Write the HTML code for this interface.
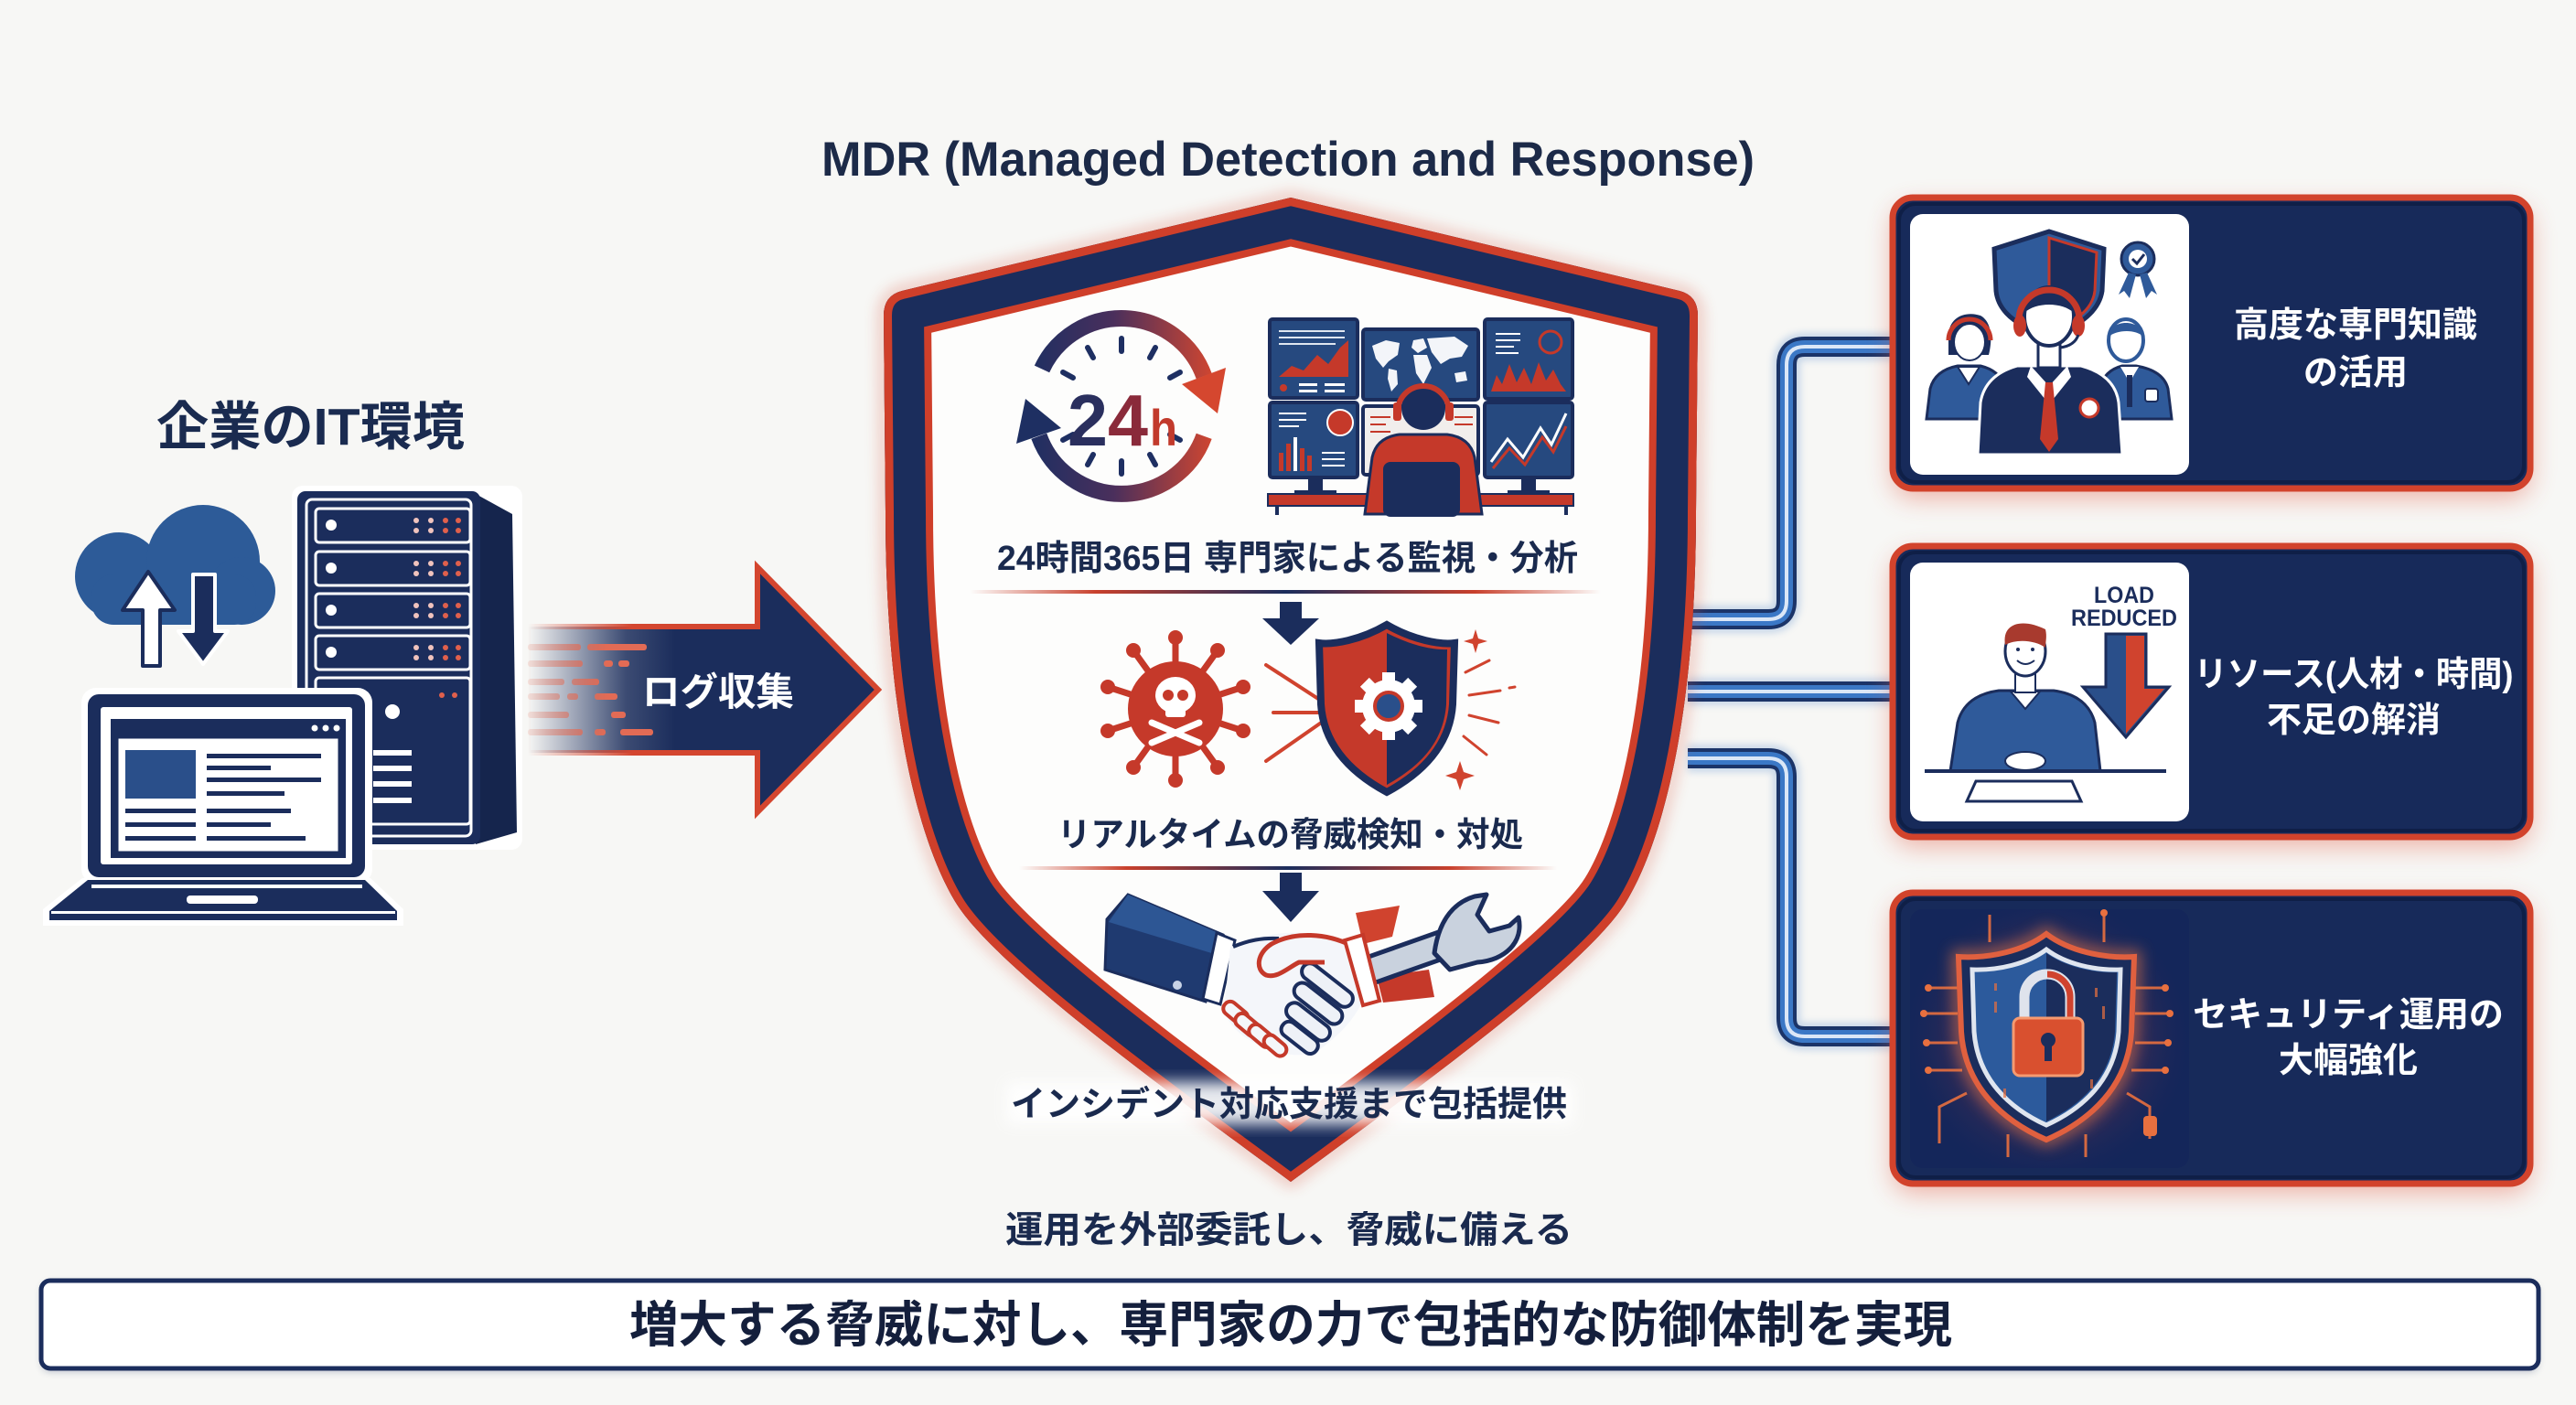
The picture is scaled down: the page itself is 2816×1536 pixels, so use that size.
<!DOCTYPE html>
<html><head><meta charset="utf-8">
<style>
html,body{margin:0;padding:0;background:#f7f7f5;}
svg{display:block;}
text{font-family:"Liberation Sans","Noto Sans CJK JP",sans-serif;font-weight:bold;}
</style></head><body>
<svg width="2816" height="1536" viewBox="0 0 2816 1536" xmlns="http://www.w3.org/2000/svg">
<defs>
 <filter id="b4" x="-20%" y="-20%" width="140%" height="140%"><feGaussianBlur stdDeviation="4"/></filter>
 <filter id="b8" x="-20%" y="-30%" width="140%" height="160%"><feGaussianBlur stdDeviation="8"/></filter>
 <filter id="b14" x="-20%" y="-30%" width="140%" height="160%"><feGaussianBlur stdDeviation="14"/></filter>
 <linearGradient id="arrF" x1="577" x2="960" y1="0" y2="0" gradientUnits="userSpaceOnUse">
  <stop offset="0" stop-color="#1b2d5c" stop-opacity="0"/><stop offset="0.28" stop-color="#1b2d5c" stop-opacity="0.85"/><stop offset="0.42" stop-color="#1b2d5c"/></linearGradient>
 <linearGradient id="arrS" x1="577" x2="960" y1="0" y2="0" gradientUnits="userSpaceOnUse">
  <stop offset="0" stop-color="#d4462f" stop-opacity="0"/><stop offset="0.3" stop-color="#d4462f"/><stop offset="1" stop-color="#d4462f"/></linearGradient>
 <linearGradient id="dashG" x1="577" x2="720" y1="0" y2="0" gradientUnits="userSpaceOnUse">
  <stop offset="0" stop-color="#e26b55" stop-opacity="0.15"/><stop offset="0.6" stop-color="#e26b55"/></linearGradient>
 <linearGradient id="ringG" x1="1125" x2="1330" y1="0" y2="0" gradientUnits="userSpaceOnUse">
  <stop offset="0" stop-color="#1e2f62"/><stop offset="0.45" stop-color="#4a2f5c"/><stop offset="1" stop-color="#d5472f"/></linearGradient>
 <linearGradient id="divG" x1="0" x2="1" y1="0" y2="0">
  <stop offset="0" stop-color="#c8402c" stop-opacity="0"/><stop offset="0.2" stop-color="#c8402c"/><stop offset="0.5" stop-color="#1b2d5c"/><stop offset="0.8" stop-color="#c8402c"/><stop offset="1" stop-color="#c8402c" stop-opacity="0"/></linearGradient>
 <radialGradient id="lockGlow" cx="2238" cy="1135" r="160" gradientUnits="userSpaceOnUse">
  <stop offset="0" stop-color="#e8643f" stop-opacity="0.75"/><stop offset="0.55" stop-color="#8a3a4e" stop-opacity="0.35"/><stop offset="1" stop-color="#15275a" stop-opacity="0"/></radialGradient>
 <path id="shp" d="M1411 216 L1836 318 Q1856 323 1856 345 L1854 560 C1854 800 1812 930 1777 987 C1732 1060 1522 1210 1411 1292 C1300 1210 1090 1060 1045 987 C1010 930 968 800 968 560 L966 345 Q966 323 986 318 Z"/>
 <clipPath id="shc"><use href="#shp"/></clipPath>
</defs>
<rect width="2816" height="1536" fill="#f7f7f5"/>

<!-- Title -->
<text x="898" y="192" font-size="53" fill="#1c2a48" textLength="1020" lengthAdjust="spacingAndGlyphs">MDR (Managed Detection and Response)</text>

<!-- Left: IT environment -->
<text x="171" y="486" font-size="57" fill="#1a2b50" textLength="337" lengthAdjust="spacingAndGlyphs">企業のIT環境</text>

<!-- Cloud -->
<g fill="#2d5b98">
 <circle cx="130" cy="630" r="48"/>
 <circle cx="222" cy="614" r="62"/>
 <circle cx="264" cy="646" r="37"/>
 <rect x="100" y="628" width="180" height="55" rx="24"/>
</g>
<g stroke-linejoin="round">
 <path d="M156 728 L156 667 L134 667 L162 625 L191 667 L175 667 L175 728 Z" fill="#ffffff" stroke="#1b2d5c" stroke-width="4"/>
 <path d="M211 628 L235 628 L235 690 L249 690 L222 726 L195 690 L211 690 Z" fill="#1b2d5c" stroke="#ffffff" stroke-width="4"/>
</g>

<!-- Server -->
<rect x="319" y="531" width="252" height="398" rx="12" fill="#ffffff"/>
<polygon points="520,540 560,562 565,910 520,923" fill="#15254d"/>
<rect x="325" y="537" width="200" height="386" rx="9" fill="#1b2d5c"/>
<rect x="335" y="546" width="180" height="368" rx="6" fill="none" stroke="#ffffff" stroke-width="3"/>
<g fill="#1b2d5c" stroke="#ffffff" stroke-width="3">
 <rect x="345" y="556" width="169" height="37" rx="4"/>
 <rect x="345" y="603" width="169" height="37" rx="4"/>
 <rect x="345" y="649" width="169" height="37" rx="4"/>
 <rect x="345" y="695" width="169" height="37" rx="4"/>
 <rect x="345" y="741" width="169" height="160" rx="4"/>
</g>
<g fill="#ffffff">
 <circle cx="362" cy="574" r="6"/><circle cx="362" cy="621" r="6"/><circle cx="362" cy="667" r="6"/><circle cx="362" cy="713" r="6"/>
 <circle cx="429" cy="778" r="8"/>
 <rect x="408" y="820" width="42" height="6"/><rect x="408" y="837" width="42" height="6"/><rect x="408" y="854" width="42" height="6"/><rect x="408" y="872" width="42" height="6"/>
</g>
<g>
 <g fill="#f0c3bd"><circle cx="455" cy="569" r="3"/><circle cx="471" cy="569" r="3"/><circle cx="455" cy="580" r="3"/><circle cx="471" cy="580" r="3"/>
 <circle cx="455" cy="616" r="3"/><circle cx="471" cy="616" r="3"/><circle cx="455" cy="627" r="3"/><circle cx="471" cy="627" r="3"/>
 <circle cx="455" cy="662" r="3"/><circle cx="471" cy="662" r="3"/><circle cx="455" cy="673" r="3"/><circle cx="471" cy="673" r="3"/>
 <circle cx="455" cy="708" r="3"/><circle cx="471" cy="708" r="3"/><circle cx="455" cy="719" r="3"/><circle cx="471" cy="719" r="3"/></g>
 <g fill="#e0604c"><circle cx="487" cy="569" r="3"/><circle cx="501" cy="569" r="3"/><circle cx="487" cy="580" r="3"/><circle cx="501" cy="580" r="3"/>
 <circle cx="487" cy="616" r="3"/><circle cx="501" cy="616" r="3"/><circle cx="487" cy="627" r="3"/><circle cx="501" cy="627" r="3"/>
 <circle cx="487" cy="662" r="3"/><circle cx="501" cy="662" r="3"/><circle cx="487" cy="673" r="3"/><circle cx="501" cy="673" r="3"/>
 <circle cx="487" cy="708" r="3"/><circle cx="501" cy="708" r="3"/><circle cx="487" cy="719" r="3"/><circle cx="501" cy="719" r="3"/>
 <circle cx="483" cy="760" r="3"/><circle cx="497" cy="760" r="3"/></g>
</g>

<!-- Laptop -->
<rect x="89" y="752" width="318" height="214" rx="16" fill="#ffffff"/>
<path d="M90 960 L405 960 L441 994 L441 1012 L47 1012 L47 994 Z" fill="#ffffff"/>
<rect x="96" y="759" width="303" height="200" rx="12" fill="#1b2d5c"/>
<rect x="110" y="773" width="275" height="172" rx="3" fill="#ffffff"/>
<rect x="121" y="786" width="257" height="152" fill="#1b2d5c"/>
<g fill="#ffffff"><circle cx="344" cy="796" r="3.5"/><circle cx="356" cy="796" r="3.5"/><circle cx="368" cy="796" r="3.5"/></g>
<rect x="128" y="806" width="243" height="126" fill="#ffffff"/>
<rect x="128" y="806" width="243" height="126" fill="none" stroke="#1b2d5c" stroke-width="3"/>
<rect x="137" y="820" width="77" height="53" fill="#2a4f8a"/>
<g fill="#1b2d5c">
 <rect x="226" y="824" width="125" height="5"/><rect x="226" y="837" width="70" height="5"/><rect x="226" y="850" width="125" height="5"/><rect x="226" y="865" width="85" height="5"/>
 <rect x="137" y="884" width="77" height="5"/><rect x="226" y="884" width="92" height="5"/>
 <rect x="137" y="899" width="77" height="5"/><rect x="226" y="899" width="70" height="5"/>
 <rect x="137" y="914" width="77" height="5"/><rect x="226" y="914" width="108" height="5"/>
</g>
<path d="M96 962 L399 962 L434 996 L434 1006 L54 1006 L54 996 Z" fill="#1b2d5c"/>
<rect x="100" y="967" width="296" height="4" fill="#ffffff"/>
<rect x="204" y="979" width="78" height="9" rx="4" fill="#ffffff"/>
<rect x="56" y="996" width="376" height="3" fill="#ffffff"/>

<!-- Log arrow -->
<path d="M577 685 L828 685 L828 620 L960 754 L828 888 L828 823 L577 823 Z" fill="url(#arrF)" stroke="url(#arrS)" stroke-width="6" stroke-linejoin="miter"/>
<g fill="url(#dashG)">
 <rect x="577" y="704" width="58" height="7" rx="3"/><rect x="642" y="704" width="65" height="7" rx="3"/>
 <rect x="577" y="722" width="60" height="7" rx="3"/><rect x="660" y="722" width="10" height="7" rx="3"/><rect x="676" y="722" width="12" height="7" rx="3"/>
 <rect x="577" y="742" width="40" height="7" rx="3"/><rect x="625" y="742" width="30" height="7" rx="3"/>
 <rect x="577" y="758" width="35" height="7" rx="3"/><rect x="620" y="758" width="12" height="7" rx="3"/><rect x="650" y="758" width="25" height="7" rx="3"/>
 <rect x="577" y="778" width="45" height="7" rx="3"/><rect x="668" y="778" width="16" height="7" rx="3"/>
 <rect x="577" y="797" width="60" height="7" rx="3"/><rect x="650" y="797" width="12" height="7" rx="3"/><rect x="678" y="797" width="36" height="7" rx="3"/>
</g>
<text x="702" y="771" font-size="42" fill="#ffffff" textLength="166" lengthAdjust="spacingAndGlyphs">ログ収集</text>

<!-- Connectors -->
<g fill="none" stroke-linejoin="round">
 <g stroke="#3a76c2" stroke-width="30" opacity="0.25" filter="url(#b4)">
  <path d="M1845 677 L1933 677 Q1953 677 1953 657 L1953 399 Q1953 379 1973 379 L2070 379"/>
  <path d="M1845 756 L2070 756"/>
  <path d="M1845 829 L1933 829 Q1953 829 1953 849 L1953 1113 Q1953 1133 1973 1133 L2070 1133"/>
 </g>
 <g stroke="#1b3468" stroke-width="22">
  <path d="M1845 677 L1933 677 Q1953 677 1953 657 L1953 399 Q1953 379 1973 379 L2070 379"/>
  <path d="M1845 756 L2070 756"/>
  <path d="M1845 829 L1933 829 Q1953 829 1953 849 L1953 1113 Q1953 1133 1973 1133 L2070 1133"/>
 </g>
 <g stroke="#3b78c6" stroke-width="14">
  <path d="M1845 677 L1933 677 Q1953 677 1953 657 L1953 399 Q1953 379 1973 379 L2070 379"/>
  <path d="M1845 756 L2070 756"/>
  <path d="M1845 829 L1933 829 Q1953 829 1953 849 L1953 1113 Q1953 1133 1973 1133 L2070 1133"/>
 </g>
 <g stroke="#dbe7f7" stroke-width="4">
  <path d="M1845 677 L1933 677 Q1953 677 1953 657 L1953 399 Q1953 379 1973 379 L2070 379"/>
  <path d="M1845 756 L2070 756"/>
  <path d="M1845 829 L1933 829 Q1953 829 1953 849 L1953 1113 Q1953 1133 1973 1133 L2070 1133"/>
 </g>
</g>

<!-- Shield -->
<use href="#shp" fill="none" stroke="#d4462f" stroke-width="10" opacity="0.35" filter="url(#b8)"/>
<g clip-path="url(#shc)">
 <use href="#shp" fill="#fdfdfc"/>
 <use href="#shp" fill="none" stroke="#cf3f2a" stroke-width="104"/>
 <use href="#shp" fill="none" stroke="#1b2d5c" stroke-width="88"/>
 <use href="#shp" fill="none" stroke="#cf3f2a" stroke-width="18"/>
</g>

<!-- Clock -->
<g fill="none" stroke="url(#ringG)" stroke-width="18">
 <path d="M1139 403.4 A96 96 0 0 1 1316.2 411.2"/>
 <path d="M1316.2 476.8 A96 96 0 0 1 1135.8 476.8"/>
</g>
<polygon points="1340,402 1292,420 1331,452" fill="#d5472f"/>
<polygon points="1111,485 1160,468 1121,436" fill="#1e2f62"/>
<g stroke="#1e2f62" stroke-width="6" stroke-linecap="round">
 <line x1="1226" y1="370" x2="1226" y2="384"/>
 <line x1="1263" y1="380" x2="1257" y2="391"/>
 <line x1="1290" y1="407" x2="1279" y2="413"/>
 <line x1="1290" y1="481" x2="1279" y2="475"/>
 <line x1="1263" y1="508" x2="1257" y2="497"/>
 <line x1="1226" y1="518" x2="1226" y2="504"/>
 <line x1="1189" y1="508" x2="1195" y2="497"/>
 <line x1="1162" y1="481" x2="1173" y2="475"/>
 <line x1="1162" y1="407" x2="1173" y2="413"/>
 <line x1="1189" y1="380" x2="1195" y2="391"/>
</g>
<text x="1167" y="487" font-size="80" textLength="88" lengthAdjust="spacingAndGlyphs"><tspan fill="#2a2f5e">2</tspan><tspan fill="#8a2a3a">4</tspan></text>
<text x="1257" y="487" font-size="56" fill="#c23a2c" textLength="30" lengthAdjust="spacingAndGlyphs">h</text>

<!-- Monitors -->
<g stroke="#1b2d5c" stroke-width="4" fill="#26497f">
 <rect x="1388" y="349" width="96" height="86" rx="3"/>
 <rect x="1490" y="360" width="126" height="77" rx="3"/>
 <rect x="1623" y="349" width="96" height="87" rx="3"/>
 <rect x="1388" y="440" width="96" height="82" rx="3"/>
 <rect x="1490" y="444" width="126" height="75" rx="3" fill="#f1eeec"/>
 <rect x="1623" y="440" width="96" height="82" rx="3"/>
</g>
<g fill="#1b2d5c"><rect x="1430" y="522" width="16" height="20"/><rect x="1663" y="522" width="16" height="20"/><rect x="1415" y="536" width="46" height="6"/><rect x="1648" y="536" width="46" height="6"/></g>
<g stroke="#dfe6f0" stroke-width="2"><line x1="1398" y1="362" x2="1470" y2="362"/><line x1="1398" y1="369" x2="1470" y2="369"/><line x1="1398" y1="376" x2="1460" y2="376"/></g>
<polygon points="1398,412 1412,400 1425,405 1440,388 1452,398 1465,380 1474,372 1474,412" fill="#c5392a"/>
<circle cx="1403" cy="424" r="4" fill="#c5392a"/>
<g fill="#ffffff"><rect x="1420" y="419" width="20" height="3"/><rect x="1420" y="426" width="20" height="3"/><rect x="1448" y="419" width="22" height="3"/><rect x="1448" y="426" width="22" height="3"/></g>
<g fill="#f3f5f9">
 <path d="M1500 378 L1515 372 L1530 375 L1528 388 L1518 395 L1512 402 L1504 392 Z"/>
 <path d="M1518 403 L1527 405 L1528 420 L1521 428 L1517 414 Z"/>
 <path d="M1545 372 L1556 370 L1560 380 L1550 386 L1543 380 Z"/>
 <path d="M1545 388 L1560 388 L1565 402 L1556 420 L1548 408 Z"/>
 <path d="M1560 370 L1590 368 L1605 378 L1598 390 L1585 392 L1575 398 L1565 385 Z"/>
 <path d="M1590 408 L1602 406 L1604 416 L1592 418 Z"/>
</g>
<g stroke="#ffffff" stroke-width="2"><line x1="1635" y1="365" x2="1662" y2="365"/><line x1="1635" y1="372" x2="1662" y2="372"/><line x1="1635" y1="379" x2="1655" y2="379"/><line x1="1635" y1="386" x2="1660" y2="386"/></g>
<circle cx="1695" cy="374" r="12" fill="none" stroke="#c5392a" stroke-width="3"/>
<polygon points="1630,428 1636,410 1642,420 1650,398 1658,418 1666,402 1674,420 1682,396 1690,416 1698,404 1706,420 1712,428" fill="#c5392a"/>
<g stroke="#ffffff" stroke-width="2"><line x1="1398" y1="452" x2="1428" y2="452"/><line x1="1398" y1="459" x2="1428" y2="459"/><line x1="1398" y1="466" x2="1420" y2="466"/><line x1="1445" y1="495" x2="1470" y2="495"/><line x1="1445" y1="502" x2="1470" y2="502"/><line x1="1445" y1="509" x2="1470" y2="509"/></g>
<circle cx="1465" cy="462" r="14" fill="#c5392a" stroke="#ffffff" stroke-width="2"/>
<g fill="#c5392a"><rect x="1398" y="495" width="5" height="20"/><rect x="1406" y="485" width="5" height="30"/><rect x="1414" y="478" width="4" height="37" fill="#ffffff"/><rect x="1421" y="490" width="5" height="25"/><rect x="1429" y="498" width="5" height="17"/></g>
<g stroke="#c5392a" stroke-width="2"><line x1="1498" y1="456" x2="1520" y2="456"/><line x1="1498" y1="464" x2="1515" y2="464"/><line x1="1498" y1="472" x2="1520" y2="472"/><line x1="1590" y1="456" x2="1610" y2="456"/><line x1="1590" y1="464" x2="1610" y2="464"/></g>
<polyline points="1630,505 1648,480 1665,500 1684,468 1696,486 1712,452" fill="none" stroke="#ffffff" stroke-width="3"/>
<polyline points="1632,512 1650,490 1667,508 1686,478 1698,494 1712,466" fill="none" stroke="#c5392a" stroke-width="3"/>
<rect x="1386" y="540" width="334" height="13" fill="#c5392a" stroke="#1b2d5c" stroke-width="2"/>
<g fill="#1b2d5c"><rect x="1394" y="553" width="4" height="10"/><rect x="1710" y="553" width="4" height="10"/></g>
<path d="M1492 562 L1500 500 Q1505 478 1530 475 L1582 475 Q1607 478 1612 500 L1620 562 Z" fill="#c5392a" stroke="#1b2d5c" stroke-width="3"/>
<rect x="1512" y="505" width="84" height="60" rx="8" fill="#1b2d5c"/>
<circle cx="1556" cy="446" r="24" fill="#1b2d5c"/>
<path d="M1528 450 A28 28 0 0 1 1584 450" fill="none" stroke="#c5392a" stroke-width="6"/>
<rect x="1523" y="440" width="9" height="20" rx="3" fill="#c5392a"/><rect x="1580" y="440" width="9" height="20" rx="3" fill="#c5392a"/>

<text x="1090" y="623" font-size="38" fill="#1a2a4e" textLength="635" lengthAdjust="spacingAndGlyphs">24時間365日 専門家による監視・分析</text>
<rect x="1060" y="645" width="690" height="4" fill="url(#divG)"/>
<rect x="1399" y="658" width="24" height="20" fill="#1b2d5c"/><polygon points="1380,676 1442,676 1411,705" fill="#1b2d5c"/>

<!-- Virus -->
<g stroke="#c5392a" stroke-width="7" stroke-linecap="round">
 <line x1="1285" y1="775" x2="1285" y2="700"/><line x1="1285" y1="775" x2="1329" y2="714"/><line x1="1285" y1="775" x2="1356" y2="752"/>
 <line x1="1285" y1="775" x2="1356" y2="798"/><line x1="1285" y1="775" x2="1329" y2="836"/><line x1="1285" y1="775" x2="1285" y2="850"/>
 <line x1="1285" y1="775" x2="1241" y2="836"/><line x1="1285" y1="775" x2="1214" y2="798"/><line x1="1285" y1="775" x2="1214" y2="752"/><line x1="1285" y1="775" x2="1241" y2="714"/>
</g>
<g fill="#c5392a">
 <circle cx="1285" cy="697" r="8"/><circle cx="1331" cy="711" r="8"/><circle cx="1359" cy="751" r="8"/><circle cx="1359" cy="799" r="8"/><circle cx="1331" cy="839" r="8"/>
 <circle cx="1285" cy="853" r="8"/><circle cx="1239" cy="839" r="8"/><circle cx="1211" cy="799" r="8"/><circle cx="1211" cy="751" r="8"/><circle cx="1239" cy="711" r="8"/>
 <circle cx="1285" cy="775" r="52"/>
</g>
<ellipse cx="1285" cy="760" rx="22" ry="20" fill="#ffffff"/>
<rect x="1274" y="770" width="22" height="14" rx="3" fill="#ffffff"/>
<circle cx="1277" cy="760" r="6" fill="#c5392a"/><circle cx="1293" cy="760" r="6" fill="#c5392a"/>
<g stroke="#ffffff" stroke-width="7" stroke-linecap="round"><line x1="1259" y1="790" x2="1311" y2="812"/><line x1="1311" y1="790" x2="1259" y2="812"/></g>
<!-- red attack arrows -->
<g stroke="#d0432e" stroke-width="4" stroke-linecap="round">
 <line x1="1384" y1="727" x2="1455" y2="773"/><line x1="1392" y1="779" x2="1450" y2="779"/><line x1="1384" y1="832" x2="1450" y2="786"/>
</g>
<polygon points="1446,766 1472,779 1446,792" fill="#d0432e"/>
<!-- small shield -->
<path d="M1516 683 C1545 700 1575 705 1590 703 L1588 770 C1585 815 1555 845 1516 866 C1477 845 1447 815 1444 770 L1442 703 C1457 705 1487 700 1516 683 Z" fill="#c5392a" stroke="#1b2d5c" stroke-width="8"/>
<path d="M1516 692 L1516 858 C1552 838 1578 812 1581 770 L1582 710 C1568 711 1543 706 1516 692 Z" fill="#1b2d5c"/>
<g fill="#ffffff">
 <circle cx="1518" cy="772" r="29"/>
 <rect x="1511" y="735" width="14" height="16"/><rect x="1511" y="793" width="14" height="16"/><rect x="1481" y="765" width="16" height="14"/><rect x="1539" y="765" width="16" height="14"/>
 <rect x="1511" y="735" width="14" height="16" transform="rotate(45 1518 772)"/><rect x="1511" y="735" width="14" height="16" transform="rotate(135 1518 772)"/><rect x="1511" y="735" width="14" height="16" transform="rotate(225 1518 772)"/><rect x="1511" y="735" width="14" height="16" transform="rotate(315 1518 772)"/>
</g>
<circle cx="1518" cy="772" r="15" fill="#2a4f8a" stroke="#c5392a" stroke-width="4"/>
<g stroke="#d0432e" stroke-width="3" stroke-linecap="round">
 <line x1="1602" y1="735" x2="1628" y2="722"/><line x1="1606" y1="760" x2="1640" y2="755"/><line x1="1606" y1="782" x2="1638" y2="790"/><line x1="1600" y1="805" x2="1625" y2="825"/><line x1="1650" y1="752" x2="1656" y2="751"/>
</g>
<path d="M1613 688 L1616 698 L1626 701 L1616 704 L1613 714 L1610 704 L1600 701 L1610 698 Z" fill="#d0432e"/>
<path d="M1596 832 L1600 844 L1612 848 L1600 852 L1596 864 L1592 852 L1580 848 L1592 844 Z" fill="#d0432e"/>

<text x="1156" y="925" font-size="37" fill="#1a2a4e" textLength="509" lengthAdjust="spacingAndGlyphs">リアルタイムの脅威検知・対処</text>
<rect x="1114" y="947" width="588" height="4" fill="url(#divG)"/>
<rect x="1399" y="954" width="24" height="22" fill="#1b2d5c"/><polygon points="1380,974 1442,974 1411,1008" fill="#1b2d5c"/>

<!-- Handshake -->
<!-- red sleeve + wrench (behind) -->
<polygon points="1482,998 1530,990 1522,1024 1490,1032" fill="#d0432e"/>
<polygon points="1505,1068 1562,1060 1568,1090 1512,1096" fill="#c5392a"/>
<path d="M1500 1060 L1585 1030" stroke="#1b2d5c" stroke-width="34" stroke-linecap="round"/>
<path d="M1500 1060 L1585 1030" stroke="#c9d2de" stroke-width="24" stroke-linecap="round"/>
<path d="M1568 1042 C1572 1012 1585 988 1612 980 L1625 978 L1615 1000 L1628 1018 L1650 1012 L1660 1003 C1666 1030 1645 1050 1615 1052 L1585 1060 Z" fill="#c9d2de" stroke="#1b2d5c" stroke-width="5" stroke-linejoin="round"/>
<!-- navy sleeve -->
<polygon points="1233,978 1337,1022 1318,1095 1208,1060 1210,1005" fill="#1f3a70" stroke="#1b2d5c" stroke-width="3"/>
<polygon points="1233,978 1337,1022 1331,1044 1212,1008" fill="#2d5694"/>
<polygon points="1330,1020 1350,1028 1334,1098 1315,1092" fill="#ffffff" stroke="#1b2d5c" stroke-width="3"/>
<circle cx="1287" cy="1077" r="5" fill="#c8d3e6"/>
<!-- palm -->
<path d="M1345 1035 C1370 1025 1395 1018 1425 1020 C1450 1022 1465 1028 1478 1035 L1492 1085 C1486 1110 1466 1130 1442 1148 C1420 1158 1400 1152 1385 1145 C1365 1140 1345 1125 1338 1105 Z" fill="#f4f6fa"/>
<path d="M1348 1035 C1365 1028 1380 1025 1398 1026" fill="none" stroke="#1b2d5c" stroke-width="4"/>
<!-- navy-outlined fingers -->
<g fill="#eef1f7" stroke="#1b2d5c" stroke-width="4">
 <rect x="1418" y="1068" width="66" height="18" rx="9" transform="rotate(38 1451 1077)"/>
 <rect x="1410" y="1088" width="62" height="18" rx="9" transform="rotate(38 1441 1097)"/>
 <rect x="1402" y="1108" width="56" height="18" rx="9" transform="rotate(38 1430 1117)"/>
 <rect x="1398" y="1126" width="46" height="17" rx="8" transform="rotate(38 1421 1134)"/>
</g>
<!-- red thumb/hand top -->
<path d="M1478 1034 C1450 1020 1415 1018 1390 1032 C1374 1042 1372 1060 1384 1066 C1396 1070 1408 1058 1420 1052 L1448 1052" fill="#f4f6fa" stroke="#c5392a" stroke-width="5" stroke-linejoin="round"/>
<!-- red-outlined fingers -->
<g fill="#f4f6fa" stroke="#c5392a" stroke-width="4">
 <rect x="1336" y="1100" width="30" height="15" rx="7" transform="rotate(40 1351 1107)"/>
 <rect x="1349" y="1113" width="30" height="15" rx="7" transform="rotate(40 1364 1120)"/>
 <rect x="1364" y="1125" width="30" height="15" rx="7" transform="rotate(40 1379 1132)"/>
 <rect x="1380" y="1136" width="28" height="14" rx="7" transform="rotate(40 1394 1143)"/>
</g>
<!-- red cuff -->
<polygon points="1470,1028 1490,1022 1508,1094 1490,1099" fill="#ffffff" stroke="#c5392a" stroke-width="4"/>

<!-- bottom shield text -->
<rect x="1100" y="1183" width="620" height="46" fill="#ffffff" opacity="0.9" filter="url(#b8)"/>
<text x="1105" y="1220" font-size="38" fill="#1a2a4e" textLength="608" lengthAdjust="spacingAndGlyphs">インシデント対応支援まで包括提供</text>

<text x="1099" y="1358" font-size="40" fill="#1a2a4e" textLength="620" lengthAdjust="spacingAndGlyphs">運用を外部委託し、脅威に備える</text>

<!-- Right boxes -->
<g fill="#e0583f" opacity="0.45" filter="url(#b14)">
 <rect x="2069" y="226" width="697" height="318" rx="22"/>
 <rect x="2069" y="607" width="697" height="318" rx="22"/>
 <rect x="2069" y="986" width="697" height="318" rx="22"/>
</g>
<g fill="#172a5a" stroke="#d2432c" stroke-width="7">
 <rect x="2069" y="216" width="697" height="318" rx="22"/>
 <rect x="2069" y="597" width="697" height="318" rx="22"/>
 <rect x="2069" y="976" width="697" height="318" rx="22"/>
</g>
<g fill="none" stroke="#0f1f47" stroke-width="4">
 <rect x="2076" y="223" width="683" height="304" rx="18"/>
 <rect x="2076" y="604" width="683" height="304" rx="18"/>
 <rect x="2076" y="983" width="683" height="304" rx="18"/>
</g>
<rect x="2088" y="234" width="305" height="285" rx="14" fill="#ffffff"/>
<rect x="2088" y="615" width="305" height="283" rx="14" fill="#ffffff"/>
<rect x="2088" y="994" width="305" height="283" rx="14" fill="#14265a"/>
<rect x="2088" y="994" width="305" height="283" rx="14" fill="url(#lockGlow)"/>

<!-- Box1 icon -->
<path d="M2240 253 L2300 272 L2298 318 C2295 338 2278 350 2268 356 L2212 356 C2200 350 2184 338 2182 318 L2180 272 Z" fill="#2f5a9a" stroke="#1b2d5c" stroke-width="5"/>
<path d="M2240 260 L2292 276 L2290 318 C2288 335 2275 345 2266 350 L2240 350 Z" fill="#1b2d5c" stroke="#c5392a" stroke-width="3"/>
<circle cx="2337" cy="283" r="18" fill="#2f5a9a" stroke="#1b2d5c" stroke-width="3"/>
<circle cx="2337" cy="283" r="10" fill="#ffffff"/>
<path d="M2331 283 L2336 288 L2344 278" fill="none" stroke="#1b2d5c" stroke-width="3"/>
<polygon points="2327,298 2335,300 2328,326 2322,318 2316,322" fill="#2f5a9a"/>
<polygon points="2347,298 2339,300 2346,326 2352,318 2358,322" fill="#2f5a9a"/>
<path d="M2106 458 L2110 425 Q2115 405 2140 400 L2165 400 Q2185 405 2190 420 L2190 458 Z" fill="#2f5a9a" stroke="#1b2d5c" stroke-width="3"/>
<polygon points="2140,401 2152,420 2164,401" fill="#ffffff" stroke="#1b2d5c" stroke-width="2"/>
<path d="M2130 372 C2128 345 2150 340 2165 345 C2178 352 2178 372 2174 388 L2130 388 Z" fill="#1b2d5c"/>
<ellipse cx="2153" cy="374" rx="17" ry="20" fill="#ffffff" stroke="#1b2d5c" stroke-width="2"/>
<path d="M2130 372 A23 23 0 0 1 2176 372" fill="none" stroke="#c5392a" stroke-width="5"/>
<path d="M2292 458 L2295 425 Q2300 405 2320 400 L2335 400 Q2365 405 2370 425 L2374 458 Z" fill="#2f5a9a" stroke="#1b2d5c" stroke-width="3"/>
<polygon points="2318,401 2328,418 2338,401" fill="#ffffff"/><rect x="2325" y="410" width="6" height="35" fill="#1b2d5c"/>
<rect x="2345" y="425" width="14" height="14" rx="3" fill="#ffffff" stroke="#1b2d5c" stroke-width="2"/>
<ellipse cx="2324" cy="372" rx="19" ry="23" fill="#ffffff" stroke="#2f5a9a" stroke-width="4"/>
<path d="M2305 368 C2305 348 2343 348 2343 368 C2335 360 2315 360 2305 368 Z" fill="#2f5a9a"/>
<path d="M2162 497 L2165 440 Q2170 410 2205 400 L2275 400 Q2312 410 2316 440 L2320 497 Z" fill="#1b2d5c" stroke="#ffffff" stroke-width="3"/>
<polygon points="2220,400 2240,422 2260,400 2264,412 2240,442 2216,412" fill="#ffffff"/>
<polygon points="2236,418 2244,418 2250,480 2240,494 2230,480" fill="#c5392a"/>
<circle cx="2284" cy="446" r="10" fill="#ffffff" stroke="#c5392a" stroke-width="3"/>
<rect x="2228" y="372" width="24" height="30" fill="#ffffff" stroke="#1b2d5c" stroke-width="3"/>
<ellipse cx="2240" cy="346" rx="27" ry="32" fill="#ffffff" stroke="#1b2d5c" stroke-width="4"/>
<path d="M2213 342 C2212 312 2268 312 2267 342 C2255 330 2225 330 2213 342 Z" fill="#1b2d5c"/>
<path d="M2207 350 A33 33 0 0 1 2273 350" fill="none" stroke="#c5392a" stroke-width="7"/>
<ellipse cx="2208" cy="356" rx="7" ry="12" fill="#c5392a"/><ellipse cx="2272" cy="356" rx="7" ry="12" fill="#c5392a"/>
<path d="M2272 366 Q2268 378 2252 380" fill="none" stroke="#1b2d5c" stroke-width="3"/>

<!-- Box2 icon -->
<text x="2289" y="659" font-size="25" fill="#1b2d5c" textLength="66" lengthAdjust="spacingAndGlyphs">LOAD</text>
<text x="2264" y="684" font-size="25" fill="#1b2d5c" textLength="116" lengthAdjust="spacingAndGlyphs">REDUCED</text>
<polygon points="2302,693 2346,693 2346,751 2371,751 2324,806 2277,751 2302,751" fill="#2a4f8a" stroke="#1b2d5c" stroke-width="3"/>
<polygon points="2324,695 2344,695 2344,753 2366,753 2324,802" fill="#d0432e"/>
<path d="M2132 843 L2140 790 Q2148 760 2185 755 L2245 755 Q2282 760 2290 790 L2296 843 Z" fill="#2f5a9a" stroke="#1b2d5c" stroke-width="3"/>
<polygon points="2198,756 2214,775 2230,756" fill="#ffffff" stroke="#1b2d5c" stroke-width="2"/>
<rect x="2203" y="733" width="22" height="24" fill="#ffffff" stroke="#1b2d5c" stroke-width="2"/>
<ellipse cx="2214" cy="712" rx="22" ry="27" fill="#ffffff" stroke="#1b2d5c" stroke-width="3"/>
<path d="M2192 705 C2188 680 2212 676 2236 688 C2238 696 2236 702 2236 708 C2225 700 2205 698 2192 705 Z" fill="#a83a2e"/>
<path d="M2205 722 Q2214 730 2224 722" fill="none" stroke="#1b2d5c" stroke-width="2"/>
<circle cx="2206" cy="710" r="2" fill="#1b2d5c"/><circle cx="2222" cy="710" r="2" fill="#1b2d5c"/>
<ellipse cx="2214" cy="832" rx="22" ry="10" fill="#ffffff" stroke="#1b2d5c" stroke-width="2"/>
<line x1="2104" y1="843" x2="2368" y2="843" stroke="#1b2d5c" stroke-width="4"/>
<polygon points="2160,854 2265,854 2275,876 2150,876" fill="#ffffff" stroke="#1b2d5c" stroke-width="3"/>

<!-- Box3 icon -->
<g stroke="#e8703f" stroke-width="3" fill="none" opacity="0.9">
 <path d="M2140 1080 L2110 1080"/><path d="M2140 1108 L2105 1108"/><path d="M2140 1140 L2108 1140"/><path d="M2145 1170 L2110 1170"/><path d="M2150 1195 L2120 1210 L2120 1250"/>
 <path d="M2334 1080 L2365 1080"/><path d="M2334 1108 L2370 1108"/><path d="M2334 1140 L2368 1140"/><path d="M2330 1170 L2365 1170"/><path d="M2325 1195 L2350 1210 L2350 1245"/>
 <path d="M2175 1030 L2175 1000"/><path d="M2300 1030 L2300 1000"/><path d="M2195 1240 L2195 1265"/><path d="M2280 1240 L2280 1265"/>
</g>
<g fill="#e8703f"><circle cx="2108" cy="1080" r="4"/><circle cx="2103" cy="1108" r="4"/><circle cx="2106" cy="1140" r="4"/><circle cx="2108" cy="1170" r="4"/><circle cx="2367" cy="1080" r="4"/><circle cx="2372" cy="1108" r="4"/><circle cx="2370" cy="1140" r="4"/><circle cx="2367" cy="1170" r="4"/><circle cx="2300" cy="998" r="4"/><rect x="2343" y="1220" width="15" height="22" rx="4"/></g>
<path d="M2237 1021 C2262 1040 2300 1048 2333 1046 L2330 1128 C2326 1188 2285 1225 2237 1246 C2189 1225 2148 1188 2144 1128 L2141 1046 C2174 1048 2212 1040 2237 1021 Z" fill="none" stroke="#f07a45" stroke-width="14" opacity="0.6" filter="url(#b8)"/>
<path d="M2237 1021 C2262 1040 2300 1048 2333 1046 L2330 1128 C2326 1188 2285 1225 2237 1246 C2189 1225 2148 1188 2144 1128 L2141 1046 C2174 1048 2212 1040 2237 1021 Z" fill="#1b2d5c" stroke="#e0603f" stroke-width="6"/>
<path d="M2237 1038 C2258 1054 2290 1061 2318 1060 L2316 1128 C2312 1180 2277 1212 2237 1230 C2197 1212 2162 1180 2158 1128 L2156 1060 C2184 1061 2216 1054 2237 1038 Z" fill="#2c5a9c" stroke="#dfe5ef" stroke-width="5"/>
<path d="M2237 1042 C2258 1057 2288 1064 2314 1063 L2312 1128 C2308 1178 2275 1208 2237 1226 Z" fill="#1b2d5c"/>
<g fill="#e8703f" opacity="0.7"><rect x="2180" y="1075" width="3" height="8"/><rect x="2180" y="1095" width="3" height="12"/><rect x="2290" y="1080" width="3" height="10"/><rect x="2298" y="1100" width="3" height="14"/><rect x="2285" y="1180" width="3" height="10"/><rect x="2190" y="1190" width="3" height="10"/></g>
<path d="M2213 1115 L2213 1090 A25 25 0 0 1 2263 1090 L2263 1115" fill="none" stroke="#dfe3ec" stroke-width="11"/>
<path d="M2238 1065 A25 25 0 0 1 2263 1090 L2263 1115" fill="none" stroke="#d0432e" stroke-width="7"/>
<rect x="2201" y="1113" width="76" height="63" rx="7" fill="#d9502f" stroke="#f59a70" stroke-width="3"/>
<circle cx="2239" cy="1137" r="8" fill="#1b2d5c"/><rect x="2235" y="1140" width="8" height="20" fill="#1b2d5c"/>

<!-- Box texts -->
<g fill="#ffffff" font-size="38" text-anchor="middle">
 <text x="2575" y="368">高度な専門知識</text>
 <text x="2575" y="420">の活用</text>
 <text x="2573" y="750" textLength="349" lengthAdjust="spacingAndGlyphs">リソース(人材・時間)</text>
 <text x="2573" y="800">不足の解消</text>
 <text x="2567" y="1122">セキュリティ運用の</text>
 <text x="2567" y="1172">大幅強化</text>
</g>

<!-- Bottom banner -->
<rect x="45" y="1402" width="2730" height="98" rx="10" fill="#1b2d5c" opacity="0.25" filter="url(#b4)"/>
<rect x="45" y="1400" width="2730" height="96" rx="10" fill="#ffffff" stroke="#1b2d5c" stroke-width="5"/>
<text x="688" y="1467" font-size="54" fill="#141f3c" textLength="1446" lengthAdjust="spacingAndGlyphs">増大する脅威に対し、専門家の力で包括的な防御体制を実現</text>
</svg>
</body></html>
